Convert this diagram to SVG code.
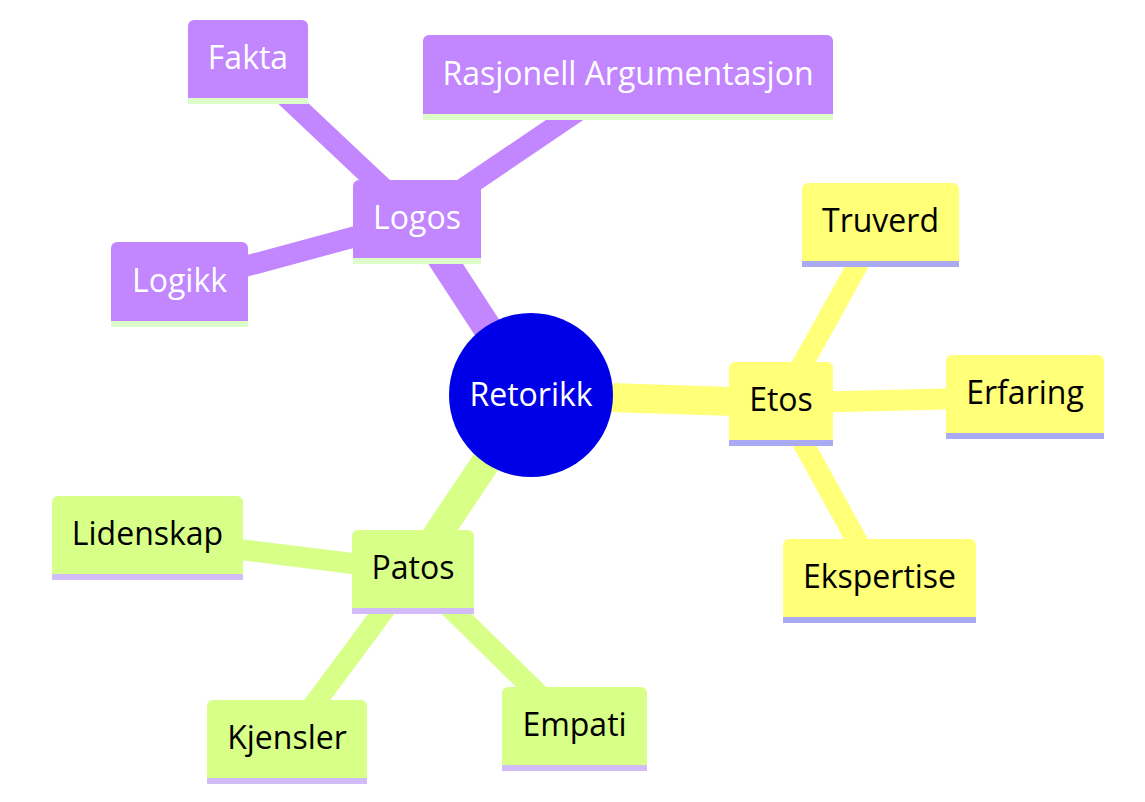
<svg xmlns="http://www.w3.org/2000/svg" width="1145" height="802" viewBox="0 0 1145 802">
<style>
  .lbl { font-family: "Open Sans", "Noto Sans", "DejaVu Sans", sans-serif; font-size: 32px; text-anchor: middle; }
  .s0 .box { fill: #c286ff; }
  .s0 .line { fill: #dcfdca; }
  .s0 text { fill: #ffffff; }
  .s1 .box { fill: #ffff78; }
  .s1 .line { fill: #aaaaf2; }
  .s1 text { fill: #000000; }
  .s2 .box { fill: #d8ff87; }
  .s2 .line { fill: #d2bcf8; }
  .s2 text { fill: #000000; }
  .e0 { stroke: #c286ff; }
  .e1 { stroke: #ffff78; }
  .e2 { stroke: #d8ff87; }
  .d0 { stroke-width: 29; }
  .d1 { stroke-width: 21; }
  #edges line { stroke-linecap: butt; fill: none; }
</style>
<rect width="1145" height="802" fill="#ffffff"/>
<g id="edges">
  <line class="e0 d0" x1="531" y1="395" x2="417" y2="220"/>
  <line class="e1 d0" x1="531" y1="395" x2="781" y2="403"/>
  <line class="e2 d0" x1="531" y1="395" x2="413" y2="571"/>
  <line class="e0 d1" x1="417" y1="220" x2="248" y2="61"/>
  <line class="e0 d1" x1="417" y1="220" x2="628" y2="77"/>
  <line class="e0 d1" x1="417" y1="220" x2="180" y2="284"/>
  <line class="e1 d1" x1="781" y1="403" x2="880" y2="225"/>
  <line class="e1 d1" x1="781" y1="403" x2="1025" y2="397"/>
  <line class="e1 d1" x1="781" y1="403" x2="879" y2="581"/>
  <line class="e2 d1" x1="413" y1="571" x2="147" y2="538"/>
  <line class="e2 d1" x1="413" y1="571" x2="287" y2="741"/>
  <line class="e2 d1" x1="413" y1="571" x2="574" y2="729"/>
</g>
<g id="root">
  <circle cx="531" cy="395" r="82" fill="#0000e8"/>
  <text class="lbl" x="531" y="406" fill="#ffffff">Retorikk</text>
</g>
<g id="logos" class="s0">
  <rect class="box" x="353" y="180" width="128" height="84" rx="6"/>
  <rect class="line" x="353" y="258" width="128" height="6"/>
  <text class="lbl" x="417" y="229">Logos</text>
</g>
<g id="fakta" class="s0">
  <rect class="box" x="188" y="20" width="120" height="84" rx="6"/>
  <rect class="line" x="188" y="98" width="120" height="6"/>
  <text class="lbl" x="248" y="69">Fakta</text>
</g>
<g id="rasjonell" class="s0">
  <rect class="box" x="423" y="35" width="410" height="85" rx="6"/>
  <rect class="line" x="423" y="114" width="410" height="6"/>
  <text class="lbl" x="628" y="85">Rasjonell Argumentasjon</text>
</g>
<g id="logikk" class="s0">
  <rect class="box" x="111" y="242" width="137" height="85" rx="6"/>
  <rect class="line" x="111" y="321" width="137" height="6"/>
  <text class="lbl" x="179.5" y="292">Logikk</text>
</g>
<g id="etos" class="s1">
  <rect class="box" x="729" y="362" width="104" height="84" rx="6"/>
  <rect class="line" x="729" y="440" width="104" height="6"/>
  <text class="lbl" x="781" y="411">Etos</text>
</g>
<g id="truverd" class="s1">
  <rect class="box" x="802" y="183" width="157" height="84" rx="6"/>
  <rect class="line" x="802" y="261" width="157" height="6"/>
  <text class="lbl" x="880.5" y="232">Truverd</text>
</g>
<g id="erfaring" class="s1">
  <rect class="box" x="946" y="355" width="158" height="84" rx="6"/>
  <rect class="line" x="946" y="433" width="158" height="6"/>
  <text class="lbl" x="1025" y="404">Erfaring</text>
</g>
<g id="ekspertise" class="s1">
  <rect class="box" x="783" y="539" width="193" height="84" rx="6"/>
  <rect class="line" x="783" y="617" width="193" height="6"/>
  <text class="lbl" x="879.5" y="588">Ekspertise</text>
</g>
<g id="patos" class="s2">
  <rect class="box" x="352" y="530" width="122" height="84" rx="6"/>
  <rect class="line" x="352" y="608" width="122" height="6"/>
  <text class="lbl" x="413" y="579">Patos</text>
</g>
<g id="lidenskap" class="s2">
  <rect class="box" x="52" y="496" width="191" height="84" rx="6"/>
  <rect class="line" x="52" y="574" width="191" height="6"/>
  <text class="lbl" x="147.5" y="545">Lidenskap</text>
</g>
<g id="kjensler" class="s2">
  <rect class="box" x="207" y="700" width="160" height="84" rx="6"/>
  <rect class="line" x="207" y="778" width="160" height="6"/>
  <text class="lbl" x="287" y="749">Kjensler</text>
</g>
<g id="empati" class="s2">
  <rect class="box" x="502" y="687" width="145" height="84" rx="6"/>
  <rect class="line" x="502" y="765" width="145" height="6"/>
  <text class="lbl" x="574.5" y="736">Empati</text>
</g>
</svg>
